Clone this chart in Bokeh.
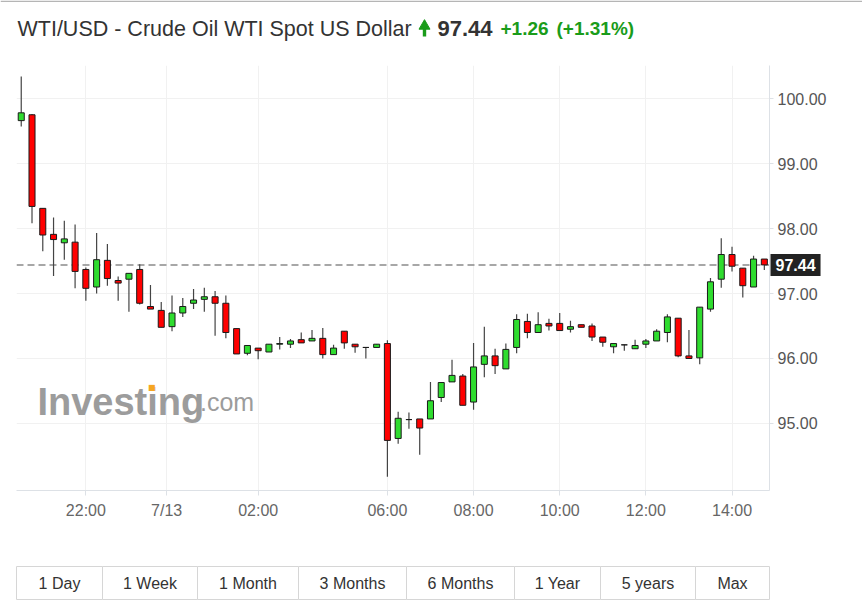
from bokeh.plotting import figure
from bokeh.models import Range1d, FixedTicker, Span, Label, ColumnDataSource, NumeralTickFormatter
from bokeh.layouts import column
from bokeh.embed import file_html
from bokeh.resources import INLINE
from bokeh.core.properties import value

# ---------------- data (15-minute candles) ----------------
opens = [99.66, 99.75, 98.31, 97.91, 97.78, 97.79, 97.37, 97.10, 97.51, 97.20,
         97.22, 97.37, 96.80, 96.74, 96.49, 96.70, 96.85, 96.91, 96.95, 96.85,
         96.46, 96.08, 96.16, 96.10, 96.22, 96.22, 96.29, 96.27, 96.31, 96.06,
         96.42, 96.22, 96.17, 96.17, 96.23, 94.77, 95.06, 95.07, 95.07, 95.40,
         95.64, 95.73, 95.33, 95.91, 96.04, 95.84, 96.17, 96.57, 96.40, 96.54,
         96.54, 96.45, 96.52, 96.50, 96.33, 96.18, 96.21, 96.15, 96.22, 96.27,
         96.40, 96.62, 96.04, 96.01, 96.76, 97.22, 97.60, 97.39, 97.10, 97.53]
highs = [100.34, 99.76, 98.31, 98.17, 98.12, 98.06, 97.40, 97.93, 97.76, 97.26,
         97.31, 97.45, 97.13, 96.87, 96.97, 96.93, 97.07, 97.09, 97.04, 96.97,
         96.46, 96.20, 96.16, 96.22, 96.33, 96.30, 96.40, 96.44, 96.47, 96.21,
         96.42, 96.22, 96.17, 96.22, 96.28, 95.18, 95.17, 95.07, 95.64, 95.63,
         95.98, 95.76, 96.24, 96.49, 96.15, 96.23, 96.68, 96.69, 96.71, 96.61,
         96.70, 96.58, 96.52, 96.54, 96.33, 96.23, 96.21, 96.29, 96.30, 96.45,
         96.68, 96.62, 96.44, 96.79, 97.24, 97.85, 97.72, 97.39, 97.58, 97.53]
lows = [99.57, 98.08, 97.65, 97.27, 97.52, 97.08, 96.89, 97.00, 97.12, 96.89,
        96.72, 96.83, 96.76, 96.48, 96.42, 96.64, 96.76, 96.72, 96.35, 96.31,
        96.07, 96.05, 95.99, 96.10, 96.14, 96.16, 96.24, 96.27, 96.00, 96.06,
        96.15, 96.09, 96.00, 96.17, 94.18, 94.69, 94.92, 94.52, 95.07, 95.33,
        95.64, 95.28, 95.21, 95.71, 95.76, 95.84, 96.08, 96.31, 96.40, 96.43,
        96.43, 96.40, 96.48, 96.27, 96.18, 96.08, 96.12, 96.15, 96.16, 96.27,
        96.25, 96.02, 96.00, 95.91, 96.72, 97.09, 97.34, 96.94, 97.10, 97.36]
closes = [99.78, 98.34, 97.90, 97.83, 97.84, 97.34, 97.08, 97.52, 97.23, 97.16,
          97.31, 96.85, 96.76, 96.48, 96.70, 96.80, 96.90, 96.95, 96.85, 96.40,
          96.07, 96.20, 96.12, 96.22, 96.23, 96.27, 96.24, 96.31, 96.06, 96.16,
          96.24, 96.18, 96.17, 96.22, 94.74, 95.08, 95.06, 94.93, 95.35, 95.63,
          95.74, 95.28, 95.87, 96.04, 95.89, 96.14, 96.60, 96.40, 96.52, 96.50,
          96.43, 96.49, 96.48, 96.33, 96.25, 96.23, 96.21, 96.20, 96.27, 96.42,
          96.64, 96.04, 96.00, 96.79, 97.18, 97.60, 97.42, 97.12, 97.53, 97.44]

tick_positions = [6, 13.5, 22, 34, 42, 50, 58, 66]
tick_labels = ["22:00", "7/13", "02:00", "06:00", "08:00", "10:00", "12:00", "14:00"]
price_ticks = [95, 96, 97, 98, 99, 100]

title_text = "WTI/USD - Crude Oil WTI Spot US Dollar"
last_price = 97.44
change_text = "+1.26"
change_pct_text = "(+1.31%)"
periods = ["1 Day", "1 Week", "1 Month", "3 Months", "6 Months", "1 Year", "5 years", "Max"]

# ---------------- styles ----------------
FONT = "Liberation Sans"
GREEN_TXT = "#1a9c1a"
UP = "#2fdc2f"
DOWN = "#ff0000"
W = 862

# ---------------- title row ----------------
t = figure(width=W, height=43, x_range=Range1d(0, W), y_range=Range1d(43, 0),
           x_axis_location=None, y_axis_location=None, toolbar_location=None,
           output_backend="svg", min_border=0, frame_align=False)
t.grid.visible = False
t.outline_line_color = None
t.segment(x0=[0], y0=[0.7], x1=[W], y1=[0.7], line_color="#b5b5b5", line_width=1.5)
t.text(x=[17], y=[28], text=[title_text], text_font=value(FONT), text_font_size="21.5px",
       text_color="#333333", text_baseline="middle")
t.scatter(x=[424], y=[25.5], marker="triangle", size=11, fill_color=GREEN_TXT, line_color=GREEN_TXT)
t.quad(left=[422.3], right=[425.7], top=[28], bottom=[36], fill_color=GREEN_TXT, line_color=None)
t.text(x=[437], y=[28], text=[f"{last_price:.2f}"], text_font=value(FONT), text_font_size="22px",
       text_font_style="bold", text_color="#333333", text_baseline="middle")
t.text(x=[500], y=[28], text=[change_text], text_font=value(FONT), text_font_size="19px",
       text_font_style="bold", text_color=GREEN_TXT, text_baseline="middle")
t.text(x=[556], y=[28], text=[change_pct_text], text_font=value(FONT), text_font_size="19px",
       text_font_style="bold", text_color=GREEN_TXT, text_baseline="middle")

# ---------------- main chart ----------------
idx = list(range(len(opens)))
colors = [UP if c >= o else DOWN for o, c in zip(opens, closes)]
src = ColumnDataSource(dict(
    x=idx, open=opens, high=highs, low=lows, close=closes,
    top=[max(o, c) for o, c in zip(opens, closes)],
    bottom=[min(o, c) for o, c in zip(opens, closes)],
    color=colors))

p = figure(width=W, height=502, x_range=Range1d(-0.44, 69.48), y_range=Range1d(93.969, 100.508),
           y_axis_location="right", toolbar_location=None, output_backend="svg",
           min_border_left=16, min_border_right=93, min_border_top=22, min_border_bottom=55,
           frame_align=False)
p.outline_line_color = None
p.background_fill_color = "white"

p.xaxis.ticker = FixedTicker(ticks=tick_positions)
p.xaxis.major_label_overrides = dict(zip(tick_positions, tick_labels))
p.yaxis.ticker = FixedTicker(ticks=price_ticks)
p.yaxis.formatter = NumeralTickFormatter(format="0.00")
p.xgrid.ticker = FixedTicker(ticks=tick_positions)
p.ygrid.ticker = FixedTicker(ticks=price_ticks)
p.grid.grid_line_color = "#f1f1f1"

for ax in (p.xaxis[0], p.yaxis[0]):
    ax.axis_line_color = "#dde1e6"
    ax.major_tick_line_color = "#dde1e6"
    ax.minor_tick_line_color = None
    ax.major_tick_in = 0
    ax.major_label_text_font = FONT
    ax.major_label_text_font_size = "16px"
p.xaxis.major_tick_out = 5
p.xaxis.major_label_standoff = 6
p.xaxis.major_label_text_color = "#666666"
p.yaxis.major_tick_out = 4
p.yaxis.major_label_standoff = 4
p.yaxis.major_label_text_color = "#555555"

p.add_layout(Span(location=last_price, dimension="width", line_color="#8a8a8a",
                  line_dash="7 4", line_width=1.5, level="underlay"))

# watermark
p.add_layout(Label(x=1.5, y=95.325, text="Investing", text_font=FONT, text_font_size="38px",
                   text_font_style="bold", text_color="#9c9c9c", text_baseline="alphabetic",
                   level="underlay"))
p.add_layout(Label(x=16.6, y=95.325, text=".com", text_font=FONT, text_font_size="25px",
                   text_color="#9c9c9c", text_baseline="alphabetic", level="underlay"))
p.add_layout(Label(x=12.12, y=95.56, text="\u25a0", text_font="DejaVu Sans", text_font_size="8px",
                   text_color="#f5a623", text_align="center", text_baseline="middle",
                   level="underlay"))

p.segment(x0="x", y0="low", x1="x", y1="high", source=src, line_color="#444444", line_width=1.2)
p.vbar(x="x", width=0.56, top="top", bottom="bottom", fill_color="color",
       line_color="#1a1a1a", line_width=1, source=src)

# last-price tag: placed in a side panel so it is not clipped to the frame
p.add_layout(Label(x=69.48, y=last_price, text=f"{last_price:.2f}", text_font=FONT,
                   text_font_size="16px", text_font_style="bold", text_color="white",
                   text_baseline="middle", text_align="left", background_fill_color="#222222",
                   padding=5, x_offset=1), "above")

# ---------------- period buttons ----------------
b = figure(width=W, height=65, x_range=Range1d(0, W), y_range=Range1d(65, 0),
           x_axis_location=None, y_axis_location=None, toolbar_location=None,
           output_backend="svg", min_border=0, frame_align=False)
b.grid.visible = False
b.outline_line_color = None
edges = [16, 102, 197, 298, 406, 514, 600, 695, 769]
b.quad(left=edges[:-1], right=edges[1:], top=[21] * 8, bottom=[54] * 8,
       fill_color="white", line_color="#d6d6d6", line_width=1)
b.text(x=[(a + c) / 2 for a, c in zip(edges[:-1], edges[1:])], y=[37.5] * 8, text=periods,
       text_font=value(FONT), text_font_size="16px", text_color="#333333",
       text_align="center", text_baseline="middle")

layout = column(t, p, b, spacing=0)
open("out.html", "w").write(file_html(layout, INLINE))
